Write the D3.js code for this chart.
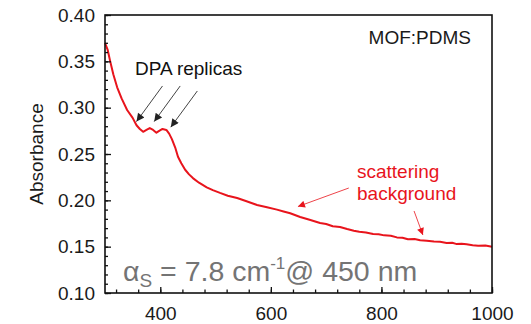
<!DOCTYPE html>
<html><head><meta charset="utf-8">
<script src="https://cdn.jsdelivr.net/npm/d3@7"></script>
<style>
html,body{margin:0;padding:0;background:#fff;}
svg{display:block;}
text{font-family:"Liberation Sans",Arial,sans-serif;}
</style></head>
<body>
<svg id="chart" width="531" height="324"></svg>
<script>
// ---- data ----
const wavelength = [300,305,309,315,322,330,340,350,357,363,369,375,381,387,393,398,404,411,416,421,427,432,438,445,452,459,470,484,495,508,522,539,556,575,593,611,623,635,653,670,689,700,712,725,738,750,760,772,785,795,805,817,828,838,848,860,870,882,895,906,918,928,935,945,954,965,975,988,1000];
const absorbance = [0.370,0.362,0.351,0.336,0.322,0.310,0.2975,0.289,0.281,0.277,0.274,0.276,0.278,0.276,0.273,0.275,0.277,0.276,0.272,0.266,0.257,0.247,0.240,0.233,0.228,0.224,0.219,0.214,0.211,0.208,0.205,0.2025,0.199,0.195,0.1925,0.190,0.188,0.186,0.182,0.179,0.1755,0.1745,0.172,0.1712,0.169,0.1672,0.166,0.1652,0.1637,0.1634,0.1622,0.1618,0.1600,0.1596,0.1580,0.1582,0.1570,0.1565,0.1555,0.1552,0.1540,0.1542,0.1530,0.1532,0.1525,0.1516,0.1510,0.1512,0.1500];

const xMajorTicks = [400,600,800,1000];
const xMinorTicks = [320,360,400,440,480,520,560,600,640,680,720,760,800,840,880,920,960,1000];
const yMajorTicks = [0.10,0.15,0.20,0.25,0.30,0.35,0.40];
const yMinorTicks = [0.10,0.11,0.12,0.13,0.14,0.15,0.16,0.17,0.18,0.19,0.20,0.21,0.22,0.23,0.24,0.25,0.26,0.27,0.28,0.29,0.30,0.31,0.32,0.33,0.34,0.35,0.36,0.37,0.38,0.39,0.40];

const yTitle = "Absorbance";
const sampleLabel = "MOF:PDMS";
const dpaLabel = "DPA replicas";
const scatterLabel = ["scattering","background"];
// arrows in data units: [fromX(nm), fromY, toX(nm), toY]
const dpaArrows = [[404,0.3234,357,0.285],[436,0.3234,389,0.285],[467,0.318,419,0.279]];
const scatterArrows = [[741,0.2133,649,0.1933],[859,0.1885,875,0.1626]];

// ---- layout ----
const svg = d3.select("#chart");
const L = 105, R = 492, T = 15, B = 293;
const x = d3.scaleLinear().domain([300,1000]).range([L,R]);
const y = d3.scaleLinear().domain([0.10,0.40]).range([B,T]);

const defs = svg.append("defs");
function marker(id, color, w, h){
  defs.append("marker").attr("id",id).attr("viewBox","0 0 10 10")
    .attr("refX",10).attr("refY",5).attr("markerWidth",w).attr("markerHeight",h)
    .attr("markerUnits","userSpaceOnUse").attr("orient","auto")
    .append("path").attr("d","M0,0 L10,5 L0,10 Z").attr("fill",color);
}
marker("ahBlack","#222",10,8);
marker("ahRed","#e8141c",9,7);

// curve
const line = d3.line().x((d,i)=>x(wavelength[i])).y(d=>y(d)).curve(d3.curveLinear);
svg.append("path").datum(absorbance).attr("d",line)
  .attr("fill","none").attr("stroke","#e8141c").attr("stroke-width",2).attr("stroke-linejoin","round");

// axes
const fontSize = 19;
const gy = svg.append("g").attr("transform",`translate(${L},0)`)
  .call(d3.axisLeft(y).tickValues(yMajorTicks).tickFormat(d3.format(".2f")).tickSize(-6).tickPadding(10));
const gyMinor = svg.append("g").attr("transform",`translate(${L},0)`)
  .call(d3.axisLeft(y).tickValues(yMinorTicks).tickFormat("").tickSize(-3));
const gx = svg.append("g").attr("transform",`translate(0,${B})`)
  .call(d3.axisBottom(x).tickValues(xMajorTicks).tickFormat(d3.format("d")).tickSize(-6).tickPadding(14));
const gxMinor = svg.append("g").attr("transform",`translate(0,${B})`)
  .call(d3.axisBottom(x).tickValues(xMinorTicks).tickFormat("").tickSize(-3.5));
[gy,gyMinor,gx,gxMinor].forEach(g=>{
  g.select(".domain").remove();
  g.selectAll("line").attr("stroke","#111").attr("stroke-width",1.3);
  g.selectAll("text").attr("font-size",fontSize).attr("fill","#1a1a1a")
    .attr("font-family","'Liberation Sans',Arial,sans-serif");
});

// frame
svg.append("rect").attr("x",L).attr("y",T).attr("width",R-L).attr("height",B-T)
  .attr("fill","none").attr("stroke","#111").attr("stroke-width",1.6);

// y title
svg.append("text").attr("transform",`translate(43,${(T+B)/2}) rotate(-90)`)
  .attr("text-anchor","middle").attr("font-size",fontSize).attr("fill","#1a1a1a").text(yTitle);

// sample label
svg.append("text").attr("x",471).attr("y",44).attr("text-anchor","end")
  .attr("font-size",fontSize).attr("fill","#1a1a1a").text(sampleLabel);

// DPA label + arrows
svg.append("text").attr("x",135).attr("y",75).attr("font-size",fontSize).attr("fill","#111").text(dpaLabel);
dpaArrows.forEach(a=>{
  svg.append("line").attr("x1",x(a[0])).attr("y1",y(a[1])).attr("x2",x(a[2])).attr("y2",y(a[3]))
    .attr("stroke","#444").attr("stroke-width",1).attr("marker-end","url(#ahBlack)");
});

// scattering label + arrows
const st = svg.append("text").attr("font-size",fontSize).attr("fill","#e8141c");
st.append("tspan").attr("x",357).attr("y",178).text(scatterLabel[0]);
st.append("tspan").attr("x",357).attr("y",200).text(scatterLabel[1]);
scatterArrows.forEach(a=>{
  svg.append("line").attr("x1",x(a[0])).attr("y1",y(a[1])).attr("x2",x(a[2])).attr("y2",y(a[3]))
    .attr("stroke","#e8141c").attr("stroke-width",0.8).attr("marker-end","url(#ahRed)");
});

// alpha_S annotation
const at = svg.append("text").attr("x",123).attr("y",281)
  .attr("font-family","'Open Sans',sans-serif").attr("font-size",28.5).attr("fill","#747474");
at.append("tspan").text("α");
at.append("tspan").attr("font-size",19).attr("dy",6).text("S");
at.append("tspan").attr("dy",-6).text(" = 7.8 cm");
at.append("tspan").attr("font-size",17).attr("dy",-12).text("-1");
at.append("tspan").attr("dy",12).text("@ 450 nm");
</script>
</body></html>
